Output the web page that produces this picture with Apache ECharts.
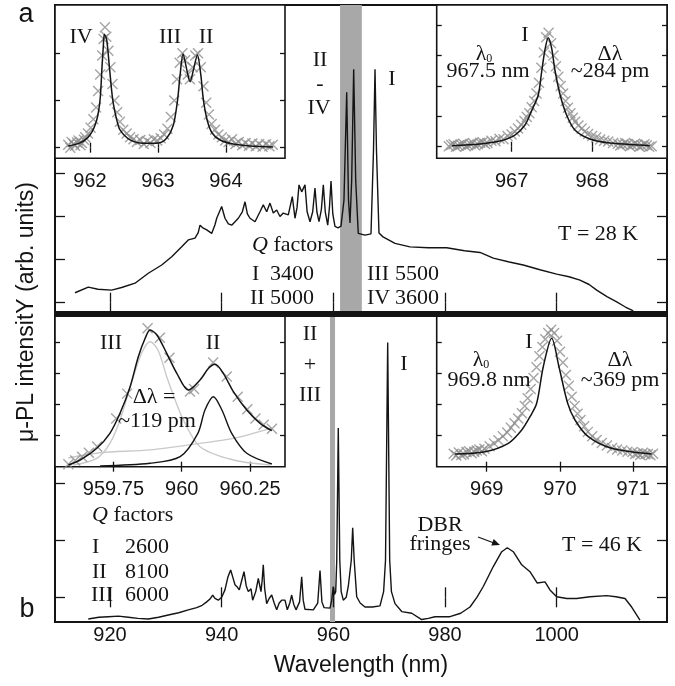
<!DOCTYPE html>
<html><head><meta charset="utf-8">
<script src="https://cdn.jsdelivr.net/npm/echarts@6/dist/echarts.min.js"></script>
<style>html,body{margin:0;padding:0;background:#fff}#c{width:675px;height:686px}</style>
</head><body><div id="c"></div>
<script>
// ---------------- data ----------------
const mainXTicks = [920, 940, 960, 980, 1000];
const topYTicks = [0, 1, 2, 3, 4, 5, 6];
const botYTicks = [0, 1, 2, 3, 4];

// panel a, T = 28 K
const spectrumA = [[913.73,0.23],[916.11,0.36],[917.85,0.31],[920.30,0.29],[922.09,0.35],[924.48,0.45],[926.86,0.68],[929.26,0.87],[931.05,1.06],[932.84,1.29],[934.02,1.45],[935.22,1.49],[935.80,1.62],[936.12,1.79],[936.71,1.72],[937.32,1.68],[938.21,1.60],[938.80,1.80],[939.11,1.95],[940.00,2.22],[940.59,1.95],[941.20,1.82],[941.79,1.79],[942.98,1.95],[943.70,2.10],[944.18,2.33],[944.60,2.05],[945.07,1.95],[945.97,1.87],[946.86,2.10],[947.45,2.26],[948.06,2.10],[948.65,2.30],[949.24,2.07],[949.85,2.14],[950.44,1.99],[951.03,2.07],[951.93,2.03],[952.65,2.45],[953.13,1.95],[953.50,2.20],[953.85,2.72],[954.33,2.56],[954.92,2.72],[955.30,2.10],[955.82,1.87],[956.30,2.10],[956.71,2.65],[957.05,2.10],[957.43,1.87],[957.85,2.15],[958.20,2.72],[958.55,2.10],[958.99,1.79],[959.30,2.20],[959.58,2.81],[959.90,2.05],[960.29,1.76],[960.83,1.73],[961.37,1.77],[961.90,2.37],[962.39,4.86],[962.71,2.37],[962.98,1.84],[963.28,2.83],[963.64,5.39],[964.00,2.83],[964.46,1.60],[965.66,1.56],[966.74,1.59],[967.19,3.53],[967.46,5.39],[967.72,3.53],[968.17,1.61],[968.89,1.52],[971.04,1.37],[973.72,1.29],[977.00,1.27],[980.30,1.27],[983.50,1.20],[986.26,1.16],[988.64,1.03],[991.50,0.94],[994.01,0.87],[997.00,0.76],[999.99,0.66],[1002.20,0.60],[1004.17,0.52],[1005.80,0.42],[1007.16,0.29],[1009.00,0.14],[1010.74,0.02],[1012.30,-0.10],[1013.71,-0.19]];
// panel b, T = 46 K
const spectrumB = [[916.11,-0.38],[918.00,-0.35],[919.69,-0.34],[921.50,-0.33],[923.28,-0.35],[925.00,-0.37],[926.86,-0.38],[928.70,-0.35],[930.44,-0.31],[932.30,-0.27],[934.02,-0.22],[935.53,-0.18],[936.50,-0.14],[937.32,-0.08],[937.90,-0.03],[938.39,0.04],[938.80,-0.02],[939.39,-0.05],[940.00,0.00],[940.59,0.13],[941.10,0.35],[941.61,0.48],[942.00,0.35],[942.38,0.22],[942.80,0.18],[943.15,0.13],[943.60,0.30],[944.00,0.45],[944.40,0.20],[944.77,0.10],[945.25,0.15],[945.55,-0.05],[946.10,0.10],[946.56,0.33],[947.04,0.10],[947.25,0.30],[947.45,0.57],[947.70,0.15],[948.06,-0.11],[948.50,-0.02],[948.96,0.04],[949.40,-0.10],[949.85,-0.22],[950.30,-0.10],[950.75,-0.05],[951.34,-0.05],[951.75,-0.22],[952.20,-0.10],[952.54,0.04],[952.90,-0.12],[953.31,-0.22],[953.95,-0.08],[954.33,0.36],[954.60,-0.05],[954.92,-0.21],[956.41,-0.22],[957.20,-0.10],[957.61,0.47],[957.95,-0.08],[958.32,-0.18],[959.40,-0.19],[959.70,-0.05],[959.99,0.19],[960.20,0.05],[960.42,0.10],[960.61,0.65],[960.88,2.97],[961.15,0.65],[961.40,0.10],[961.78,-0.05],[962.30,0.00],[962.67,0.19],[963.21,0.65],[963.46,1.22],[963.73,0.65],[964.18,0.01],[964.80,-0.10],[965.66,-0.17],[967.00,-0.17],[968.35,-0.15],[969.00,0.10],[969.34,0.65],[969.73,4.47],[970.09,0.65],[970.40,0.10],[971.04,-0.11],[972.24,-0.25],[974.03,-0.28],[975.82,-0.39],[977.00,-0.37],[978.20,-0.34],[980.89,-0.34],[982.80,-0.28],[984.47,-0.17],[985.70,0.00],[986.85,0.19],[988.64,0.54],[990.15,0.80],[991.15,0.87],[992.22,0.80],[993.73,0.57],[995.21,0.45],[996.52,0.25],[997.90,0.27],[998.79,0.13],[999.99,0.01],[1001.80,-0.02],[1003.58,-0.02],[1005.96,0.01],[1008.95,0.03],[1010.60,0.01],[1012.23,-0.02],[1013.42,-0.17],[1014.91,-0.40]];
const bandA = [961.2, 965.1];
const bandB = [959.4, 960.3];

// inset a-left (modes II-IV)
const insetA1Ticks = [962, 963, 964];
const insetA1YTicks = [0, 1, 2];
const insetA1Fit = [[961.681,0.036],[961.853,0.100],[962.000,0.269],[962.099,0.587],[962.148,1.011],[962.177,1.716],[962.196,2.140],[962.211,2.403],[962.246,2.282],[962.285,1.716],[962.335,1.011],[962.394,0.587],[962.442,0.375],[962.590,0.163],[962.785,0.093],[963.006,0.100],[963.130,0.206],[963.227,0.481],[963.289,1.011],[963.326,1.540],[963.370,1.985],[963.425,1.646],[963.473,1.398],[963.522,1.646],[963.581,1.964],[963.631,1.540],[963.669,1.011],[963.724,0.587],[963.797,0.311],[963.915,0.163],[964.107,0.078],[964.357,0.036],[964.696,0.015]];
const insetA1Data = [[961.68,0.06],[961.71,0.00],[961.73,0.12],[961.76,0.08],[961.78,0.04],[961.81,0.11],[961.83,0.15],[961.86,0.05],[961.88,0.10],[961.91,0.17],[961.93,0.22],[961.97,0.30],[962.01,0.42],[962.05,0.60],[962.09,0.85],[962.12,1.20],[962.15,1.55],[962.18,1.95],[962.20,2.30],[962.22,2.55],[962.24,2.35],[962.27,2.05],[962.30,1.70],[962.33,1.35],[962.36,1.00],[962.40,0.75],[962.44,0.55],[962.49,0.38],[962.54,0.30],[962.59,0.22],[962.64,0.18],[962.69,0.12],[962.74,0.16],[962.79,0.08],[962.84,0.14],[962.89,0.10],[962.94,0.18],[962.99,0.15],[963.04,0.20],[963.09,0.28],[963.14,0.40],[963.19,0.65],[963.24,1.00],[963.28,1.45],[963.32,1.80],[963.36,2.00],[963.40,1.85],[963.44,1.55],[963.47,1.45],[963.51,1.70],[963.55,1.95],[963.59,2.00],[963.63,1.70],[963.67,1.30],[963.71,0.95],[963.75,0.70],[963.79,0.50],[963.84,0.38],[963.89,0.28],[963.94,0.22],[963.99,0.15],[964.04,0.12],[964.09,0.18],[964.14,0.08],[964.19,0.12],[964.24,0.05],[964.29,0.10],[964.34,0.04],[964.39,0.09],[964.44,0.03],[964.49,0.08],[964.54,0.02],[964.59,0.07],[964.64,0.03],[964.69,0.06]];

// inset a-right (mode I)
const insetA2Ticks = [967, 968];
const insetA2YTicks = [0, 1, 2, 3, 4];
const insetA2Fit = [[966.260,0.033],[966.607,0.089],[966.855,0.188],[967.041,0.385],[967.166,0.714],[967.252,1.207],[967.331,1.701],[967.373,2.457],[967.414,3.181],[967.455,3.586],[967.497,3.247],[967.538,2.523],[967.603,1.701],[967.683,1.043],[967.786,0.549],[967.972,0.253],[968.220,0.122],[968.592,0.056],[968.716,0.033]];
const insetA2Data = [[966.22,0.02],[966.25,0.06],[966.28,0.08],[966.31,0.00],[966.34,0.03],[966.37,0.07],[966.40,0.10],[966.43,0.02],[966.46,0.05],[966.49,0.09],[966.52,0.12],[966.55,0.04],[966.58,0.08],[966.61,0.13],[966.64,0.15],[966.67,0.09],[966.70,0.12],[966.75,0.20],[966.80,0.18],[966.85,0.26],[966.90,0.25],[966.95,0.35],[967.00,0.40],[967.04,0.50],[967.08,0.60],[967.12,0.72],[967.16,0.85],[967.19,0.98],[967.22,1.10],[967.25,1.30],[967.28,1.50],[967.31,1.75],[967.34,2.10],[967.37,2.60],[967.40,3.10],[967.43,3.60],[967.46,3.75],[967.49,3.40],[967.52,3.00],[967.55,2.65],[967.58,2.30],[967.61,2.00],[967.64,1.75],[967.67,1.50],[967.70,1.28],[967.73,1.10],[967.76,0.95],[967.79,0.82],[967.83,0.70],[967.87,0.60],[967.91,0.50],[967.95,0.42],[968.00,0.35],[968.05,0.30],[968.10,0.24],[968.15,0.20],[968.20,0.17],[968.26,0.12],[968.32,0.10],[968.35,0.04],[968.38,0.07],[968.41,0.12],[968.44,0.09],[968.47,0.02],[968.50,0.05],[968.53,0.10],[968.56,0.07],[968.59,0.00],[968.62,0.03],[968.65,0.08],[968.68,0.05],[968.71,0.00],[968.74,0.02]];
const insetA2Fwhm = [967.331, 967.603, 1.70];

// inset b-left (modes II + III)
const insetB1Ticks = [959.75, 960, 960.25];
const insetB1YTicks = [1, 2, 3, 4];
const insetB1Fit = [[959.585,0.055],[959.628,0.215],[959.689,0.592],[959.737,1.074],[959.774,1.717],[959.811,2.572],[959.841,3.537],[959.866,4.129],[959.884,4.395],[959.909,4.235],[959.945,3.646],[959.982,3.003],[960.024,2.466],[960.067,2.788],[960.098,3.164],[960.122,3.293],[960.152,3.003],[960.189,2.412],[960.238,1.823],[960.287,1.395],[960.330,1.158]];
const insetB1ModeIII = [[959.603,0.055],[959.689,0.270],[959.737,0.752],[959.774,1.502],[959.823,2.894],[959.855,3.688],[959.884,4.019],[959.913,3.752],[959.945,2.894],[959.976,2.145],[960.006,1.502],[960.067,0.643],[960.189,0.215],[960.324,0.055]];
const insetB1ModeII = [[959.701,0.023],[959.884,0.109],[959.994,0.322],[960.059,1.074],[960.085,1.823],[960.116,2.251],[960.147,1.823],[960.183,1.074],[960.238,0.431],[960.330,0.087]];
const insetB1Background = [[959.585,0.28],[959.701,0.45],[959.884,0.54],[960.067,0.75],[960.189,0.91],[960.330,1.24]];
const insetB1Data = [[959.585,0.08],[959.61,0.20],[959.635,0.32],[959.66,0.45],[959.69,0.65],[959.76,1.55],[959.80,2.35],[959.875,4.45],[959.92,4.15],[959.955,3.50],[960.03,2.42],[960.045,2.50],[960.115,3.35],[960.165,2.90],[960.205,2.25],[960.24,1.85],[960.27,1.55],[960.30,1.35],[960.33,1.22]];
const insetB1Fwhm = [960.059, 960.183, 1.074];

// inset b-right (mode I)
const insetB2Ticks = [969, 970, 971];
const insetB2YTicks = [1, 2, 3, 4];
const insetB2Fit = [[968.568,0.408],[968.977,0.482],[969.295,0.752],[969.478,1.180],[969.591,1.608],[969.682,2.039],[969.772,3.215],[969.887,4.129],[969.986,3.215],[970.105,2.039],[970.205,1.502],[970.386,0.965],[970.705,0.592],[971.251,0.408]];
const insetB2Data = [[968.55,0.42],[968.585,0.36],[968.62,0.46],[968.655,0.38],[968.69,0.40],[968.725,0.47],[968.76,0.50],[968.795,0.43],[968.83,0.48],[968.865,0.52],[968.90,0.55],[968.935,0.50],[968.97,0.58],[969.04,0.66],[969.10,0.75],[969.16,0.85],[969.22,0.98],[969.28,1.10],[969.33,1.25],[969.38,1.40],[969.43,1.55],[969.48,1.72],[969.52,1.95],[969.56,2.20],[969.60,2.50],[969.64,2.85],[969.68,3.20],[969.72,3.55],[969.76,3.85],[969.80,4.10],[969.84,4.30],[969.88,4.40],[969.92,4.30],[969.96,4.05],[970.00,3.70],[970.04,3.35],[970.08,2.95],[970.12,2.60],[970.16,2.25],[970.20,1.95],[970.24,1.70],[970.28,1.50],[970.33,1.30],[970.38,1.12],[970.44,0.98],[970.50,0.86],[970.57,0.76],[970.64,0.68],[970.71,0.60],[970.78,0.55],[970.85,0.52],[970.92,0.48],[970.99,0.47],[971.025,0.41],[971.06,0.43],[971.095,0.38],[971.13,0.45],[971.165,0.40],[971.20,0.41],[971.235,0.37],[971.27,0.42]];
const insetB2Fwhm = [969.682, 970.105, 2.039];

// ---------------- layout / style ----------------
const SANS = '"Liberation Sans", Arial, sans-serif';
const SERIF = '"Liberation Serif", "Times New Roman", serif';
const INK = '#141414';
const CROSS = '#8e8e8e';

const grids = [
  {left: 55, top: 5, width: 612, height: 307},
  {left: 55, top: 316, width: 612, height: 306},
  {left: 55, top: 5, width: 230, height: 153.3},
  {left: 436.7, top: 5, width: 230.3, height: 153.3},
  {left: 55, top: 316, width: 230, height: 150.7},
  {left: 436.7, top: 316, width: 230.3, height: 150.7}
].map((g, i) => Object.assign(g, {
  show: true, borderColor: INK, borderWidth: i < 2 ? 2 : 1.6,
  backgroundColor: i < 2 ? 'transparent' : '#fff', z: i < 2 ? 0 : 10
}));

const xRanges = [[910.15,1019.75],[910.15,1019.75],[961.485,964.87],[966.07,968.93],[959.536,960.378],[968.318,971.46]];
const yRanges = [[-0.215,6.875],[-0.433,4.935],[-0.225,3.02],[-0.38,4.66],[0,4.846],[0,4.846]];
const xTicks = [mainXTicks, mainXTicks, insetA1Ticks, insetA2Ticks, insetB1Ticks, insetB2Ticks];
const yTicks = [topYTicks, botYTicks, insetA1YTicks, insetA2YTicks, insetB1YTicks, insetB2YTicks];
const labelShown = [false, true, true, true, true, true];
const labelMargin = [3, 3, 13, 13, 13, 13];

const xAxis = [], yAxis = [];
for (let g = 0; g < 6; g++) {
  const len = g < 2 ? 10 : 5;
  const z = g < 2 ? 1 : 11;
  ['bottom', 'top'].forEach((pos, k) => {
    xAxis.push({
      type: 'value', gridIndex: g, position: pos, min: xRanges[g][0], max: xRanges[g][1], z: z,
      axisLine: {show: false}, splitLine: {show: false},
      axisTick: {show: true, inside: true, length: len, customValues: xTicks[g], lineStyle: {color: INK, width: 1.3}},
      axisLabel: {show: k === 0 && labelShown[g], customValues: xTicks[g], margin: labelMargin[g],
        fontSize: 20, fontFamily: SANS, color: INK, formatter: (v) => String(v)}
    });
  });
  ['left', 'right'].forEach((pos) => {
    yAxis.push({
      type: 'value', gridIndex: g, position: pos, min: yRanges[g][0], max: yRanges[g][1], z: z,
      axisLine: {show: false}, splitLine: {show: false},
      axisTick: {show: true, inside: true, length: len, customValues: yTicks[g], lineStyle: {color: INK, width: 1.3}},
      axisLabel: {show: false}
    });
  });
}

function lineSeries(g, data, color, width, z, extra) {
  return Object.assign({
    type: 'line', xAxisIndex: g * 2, yAxisIndex: g * 2, data: data, showSymbol: false, symbol: 'none',
    lineStyle: {color: color, width: width}, z: z, silent: true, animation: false
  }, extra || {});
}
function crossSeries(g, data, size) {
  return {
    type: 'scatter', xAxisIndex: g * 2, yAxisIndex: g * 2, data: data,
    symbol: 'path://M0,0L10,10M10,0L0,10', symbolSize: size,
    itemStyle: {color: CROSS, borderColor: CROSS, borderWidth: 1.4}, z: 12, silent: true, animation: false
  };
}
function fwhmMarks(fw, yBottom) {
  const s = {symbol: 'none'};
  return {
    silent: true, animation: false, symbolSize: 7,
    lineStyle: {color: INK, width: 1.2, type: 'solid'}, label: {show: false},
    data: [
      [Object.assign({coord: [fw[0], yBottom]}, s), Object.assign({coord: [fw[0], fw[2]]}, s)],
      [Object.assign({coord: [fw[1], yBottom]}, s), Object.assign({coord: [fw[1], fw[2]]}, s)],
      [{coord: [fw[0], fw[2]], symbol: 'arrow'}, {coord: [fw[1], fw[2]], symbol: 'arrow'}]
    ]
  };
}

const series = [
  lineSeries(0, spectrumA, INK, 1.4, 2, {markArea: {silent: true, itemStyle: {color: '#a8a8a8'},
    data: [[{xAxis: bandA[0]}, {xAxis: bandA[1]}]]}}),
  lineSeries(1, spectrumB, INK, 1.4, 2, {markArea: {silent: true, itemStyle: {color: '#a8a8a8'},
    data: [[{xAxis: bandB[0]}, {xAxis: bandB[1]}]]}}),
  crossSeries(2, insetA1Data, 10),
  lineSeries(2, insetA1Fit, INK, 1.5, 13, {smooth: 0.3}),
  crossSeries(3, insetA2Data, 10),
  lineSeries(3, insetA2Fit, INK, 1.5, 13, {smooth: 0.3, markLine: fwhmMarks(insetA2Fwhm, yRanges[3][0])}),
  lineSeries(4, insetB1Background, '#c9c9c9', 1.4, 12, {smooth: 0.3}),
  lineSeries(4, insetB1ModeIII, '#c9c9c9', 1.4, 12, {smooth: 0.3}),
  crossSeries(4, insetB1Data, 10),
  lineSeries(4, insetB1Fit, INK, 1.5, 13, {smooth: 0.3}),
  lineSeries(4, insetB1ModeII, INK, 1.4, 13, {smooth: 0.3, markLine: fwhmMarks(insetB1Fwhm, yRanges[4][0])}),
  crossSeries(5, insetB2Data, 10),
  lineSeries(5, insetB2Fit, INK, 1.5, 13, {smooth: 0.3, markLine: fwhmMarks(insetB2Fwhm, yRanges[5][0])})
];

// ---------------- text ----------------
function txt(text, x, y, o) {
  o = o || {};
  return {
    type: 'text', x: x, y: y, z: 100, rotation: o.rot || 0, silent: true,
    style: {
      text: text, fill: INK, align: o.align || 'center', verticalAlign: 'middle',
      font: (o.italic ? 'italic ' : '') + (o.size || 22) + 'px ' + (o.sans ? SANS : SERIF),
      rich: o.rich
    }
  };
}
const subRich = {s: {fontSize: 12, fontFamily: SERIF, fill: INK, verticalAlign: 'bottom', padding: [10, 0, 0, 0]}};
const qRich = {q: {fontSize: 22, fontFamily: SERIF, fontStyle: 'italic', fill: INK}};

const texts = [
  txt('a', 26, 15, {sans: true, size: 27}),
  txt('b', 27, 610, {sans: true, size: 27}),
  txt('μ-PL intensitY (arb. units)', 27, 312, {sans: true, size: 23, rot: Math.PI / 2}),
  txt('Wavelength (nm)', 361, 666, {sans: true, size: 23}),
  // panel a
  txt('II', 320, 60), txt('-', 320, 84), txt('IV', 319, 108),
  txt('I', 392, 79),
  txt('{q|Q} factors', 252, 245, {align: 'left', rich: qRich}),
  txt('I', 252, 274, {align: 'left'}), txt('3400', 270, 274, {align: 'left'}),
  txt('II', 250, 298, {align: 'left'}), txt('5000', 270, 298, {align: 'left'}),
  txt('III', 367, 274, {align: 'left'}), txt('5500', 395, 274, {align: 'left'}),
  txt('IV', 367, 298, {align: 'left'}), txt('3600', 395, 298, {align: 'left'}),
  txt('T = 28 K', 558, 234, {align: 'left'}),
  txt('IV', 81, 37), txt('III', 170, 37), txt('II', 206, 37),
  txt('I', 525, 35),
  txt('λ{s|0}', 484, 54, {rich: subRich}), txt('967.5 nm', 488, 71),
  txt('Δλ', 610, 54), txt('~284 pm', 610, 71),
  // panel b
  txt('II', 310, 334), txt('+', 310, 365), txt('III', 310, 395),
  txt('I', 404, 364),
  txt('{q|Q} factors', 92, 515, {align: 'left', rich: qRich}),
  txt('I', 92, 547, {align: 'left'}), txt('2600', 125, 547, {align: 'left'}),
  txt('II', 92, 572, {align: 'left'}), txt('8100', 125, 572, {align: 'left'}),
  txt('III', 91, 595, {align: 'left'}), txt('6000', 125, 595, {align: 'left'}),
  txt('DBR', 440, 525), txt('fringes', 440, 544),
  txt('T = 46 K', 562, 545, {align: 'left'}),
  txt('III', 111, 343), txt('II', 213, 343),
  txt('Δλ =', 154, 397), txt('~119 pm', 157, 421),
  txt('I', 529, 342),
  txt('λ{s|0}', 481, 360, {rich: subRich}), txt('969.8 nm', 489, 380),
  txt('Δλ', 620, 360), txt('~369 pm', 620, 380)
];
const decor = [
  {type: 'rect', z: 90, silent: true, shape: {x: 54, y: 311, width: 614, height: 6}, style: {fill: INK}},
  {type: 'line', z: 90, silent: true, shape: {x1: 478, y1: 537, x2: 494, y2: 543}, style: {stroke: INK, lineWidth: 1.3}},
  {type: 'polygon', z: 90, silent: true, shape: {points: [[500, 545], [491.3, 545.6], [493.7, 539.0]]}, style: {fill: INK}}
];

const chart = echarts.init(document.getElementById('c'), null, {renderer: 'canvas'});
chart.setOption({
  animation: false,
  backgroundColor: '#fff',
  grid: grids, xAxis: xAxis, yAxis: yAxis, series: series,
  graphic: {elements: decor.concat(texts)}
});
</script>
</body></html>
